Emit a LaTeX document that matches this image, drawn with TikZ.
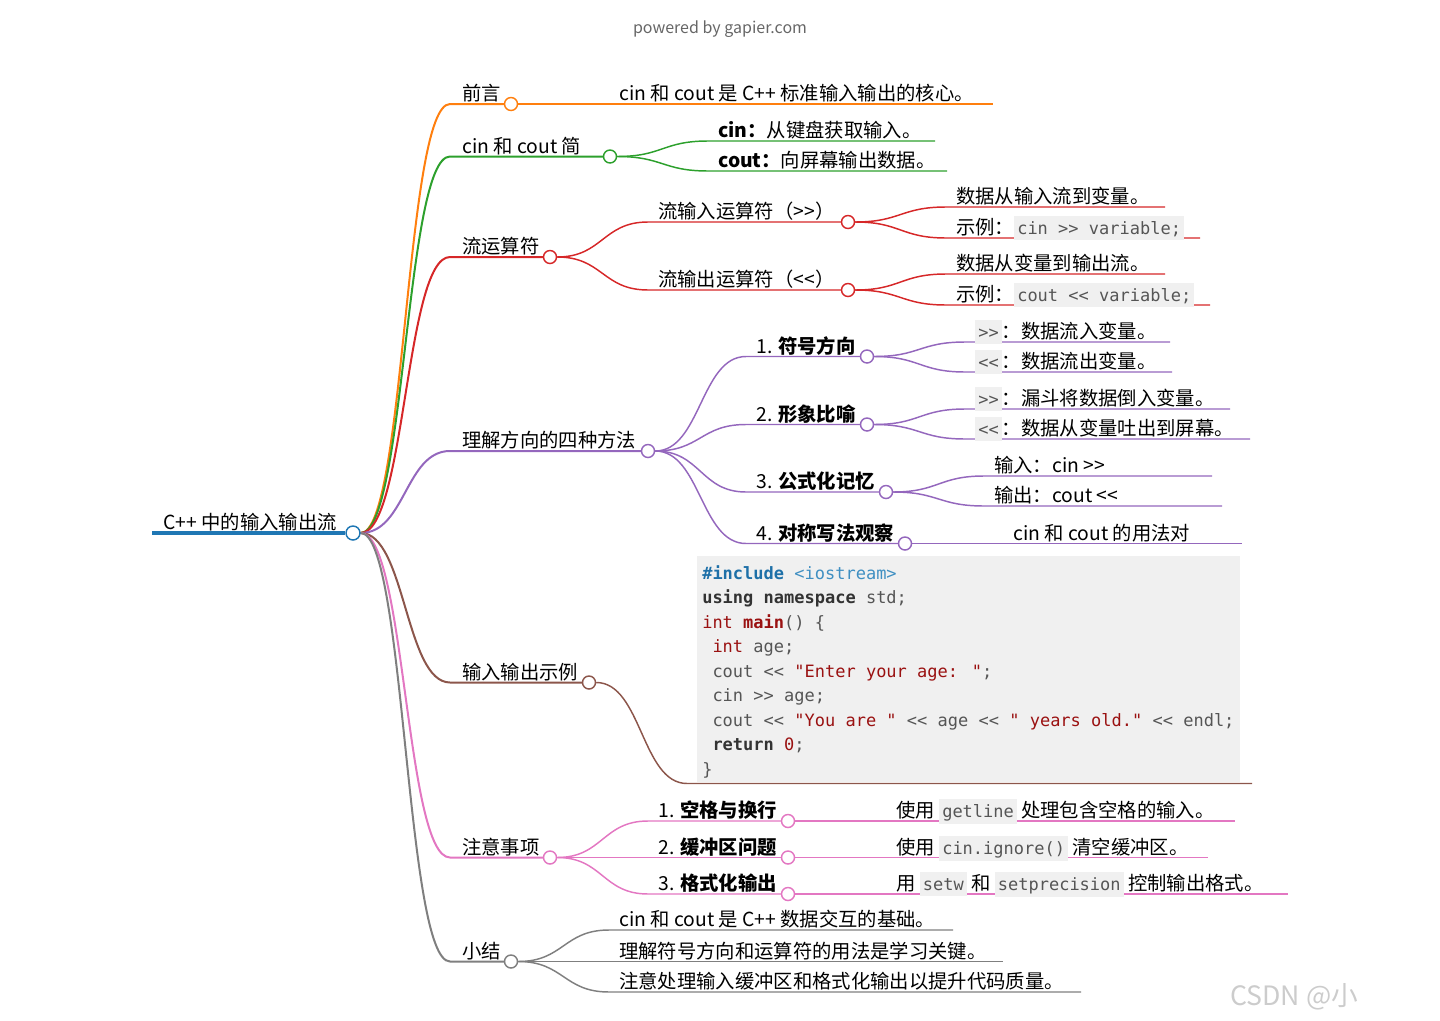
\documentclass[tikz,border=0pt]{standalone}
\usepackage{fontspec}
\setmainfont{Noto Sans CJK SC}
\newfontfamily\codefam{DejaVu Sans Mono}
\usepackage{tikz}
\usetikzlibrary{calc, backgrounds}
\usepackage{xcolor}
\definecolor{mmblue}{HTML}{1F77B4}
\definecolor{mmorange}{HTML}{FF7F0E}
\definecolor{mmgreen}{HTML}{2CA02C}
\definecolor{mmred}{HTML}{D62728}
\definecolor{mmpurple}{HTML}{9467BD}
\definecolor{mmbrown}{HTML}{8C564B}
\definecolor{mmpink}{HTML}{E377C2}
\definecolor{mmgray}{HTML}{7F7F7F}
\definecolor{codebg}{HTML}{F0F0F0}
\definecolor{codefg}{HTML}{555555}
\definecolor{incblue}{HTML}{1E70A8}
\definecolor{libblue}{HTML}{3F8FC2}
\definecolor{cred}{HTML}{9A1111}
\definecolor{kwgray}{HTML}{333333}
\definecolor{pwgray}{HTML}{666666}
\definecolor{wmgray}{HTML}{CCCCCC}
\newcommand\mmfont{\fontsize{14.5pt}{17pt}\selectfont}
\newcommand\codefont{\codefam\fontsize{12.75pt}{18.4pt}\selectfont}
\newcommand\ic[1]{{\setlength\fboxsep{2.25pt}\colorbox{codebg}{\codefont\color{codefg}\vrule height 11.6pt depth 1.8pt width 0pt #1}}}
\newcommand\rin{>\kern0pt>}
\newcommand\rout{<\kern0pt<}

\begin{document}
\begin{tikzpicture}[x=0.75pt, y=-0.75pt,
    txt/.style={anchor=base west, inner sep=0, font=\mmfont},
    dot/.style={circle, draw, fill=white, inner sep=0, minimum size=9.75pt, line width=1.1pt},
    l1/.style={line width=1.5pt},
    l2/.style={line width=1.1pt},
    mm/.style={to path={let \p1=(\tikztostart), \p2=(\tikztotarget) in
        .. controls ({(\x1+\x2)/2},\y1) and ({(\x1+\x2)/2},\y2) .. (\tikztotarget)}},
    codeln/.style={anchor=base west, inner sep=0, font=\codefont, text=codefg}]
\useasboundingbox (0,0) rectangle (1440,1021);
\node[font=\fontsize{12pt}{14pt}\selectfont, text=pwgray] (pw) at (720,29) {powered by gapier.com};

% root
\coordinate (root-s) at (152,533);
\node[txt] (root-t) at (163,529) {C++ 中的输入输出流};
\node[dot, draw=mmblue, minimum size=10.5pt] (root) at (353,533) {};

% first level
\coordinate (pre-s) at (450,104);
\node[txt] (pre-t) at (462,100.5) {前言};
\node[dot, draw=mmorange] (pre) at (511,104) {};
\coordinate (intro-s) at (450,156.5);
\node[txt] (intro-t) at (462,153) {cin 和 cout 简};
\node[dot, draw=mmgreen] (intro) at (610,156.5) {};
\coordinate (op-s) at (450,257);
\node[txt] (op-t) at (462,253.5) {流运算符};
\node[dot, draw=mmred] (op) at (550,257) {};
\coordinate (dir-s) at (450,451);
\node[txt] (dir-t) at (462,447.5) {理解方向的四种方法};
\node[dot, draw=mmpurple] (dir) at (648,451) {};
\coordinate (ex-s) at (450,682.5);
\node[txt] (ex-t) at (462,679) {输入输出示例};
\node[dot, draw=mmbrown] (ex) at (589,682.5) {};
\coordinate (note-s) at (450,857.5);
\node[txt] (note-t) at (462,854) {注意事项};
\node[dot, draw=mmpink] (note) at (550,857.5) {};
\coordinate (sum-s) at (450,961.5);
\node[txt] (sum-t) at (462,958) {小结};
\node[dot, draw=mmgray] (sum) at (511,961.5) {};

% 前言
\coordinate (pre-a-s) at (609,104);
\node[txt] (pre-a-t) at (619,100.5) {cin 和 cout 是 C++ 标准输入输出的核心。};
\coordinate (pre-a) at (993,104);

% cin 和 cout 简
\coordinate (intro-a-s) at (708,141);
\node[txt] (intro-a-t) at (718,137.5) {\textbf{cin：}从键盘获取输入。};
\coordinate (intro-a) at (935,141);
\coordinate (intro-b-s) at (708,171);
\node[txt] (intro-b-t) at (718,167.5) {\textbf{cout：}向屏幕输出数据。};
\coordinate (intro-b) at (947,171);

% 流运算符
\coordinate (op-in-s) at (648,222);
\node[txt] (op-in-t) at (658,218.5) {流输入运算符（\rin）};
\node[dot, draw=mmred] (op-in) at (848,222) {};
\coordinate (op-out-s) at (648,290);
\node[txt] (op-out-t) at (658,286.5) {流输出运算符（\rout）};
\node[dot, draw=mmred] (op-out) at (848,290) {};
\coordinate (op-in-a-s) at (946,207);
\node[txt] (op-in-a-t) at (956,203.5) {数据从输入流到变量。};
\coordinate (op-in-a) at (1165,207);
\coordinate (op-in-b-s) at (946,238);
\node[txt] (op-in-b-t) at (956,234.5) {示例：\ic{cin >> variable;}};
\coordinate (op-in-b) at (1200,238);
\coordinate (op-out-a-s) at (946,274);
\node[txt] (op-out-a-t) at (956,270.5) {数据从变量到输出流。};
\coordinate (op-out-a) at (1165,274);
\coordinate (op-out-b-s) at (946,305);
\node[txt] (op-out-b-t) at (956,301.5) {示例：\ic{cout << variable;}};
\coordinate (op-out-b) at (1210,305);

% 理解方向的四种方法
\coordinate (dir-1-s) at (746,356.5);
\node[txt] (dir-1-t) at (756,353) {1. \textbf{符号方向}};
\node[dot, draw=mmpurple] (dir-1) at (867,356.5) {};
\coordinate (dir-2-s) at (746,424.5);
\node[txt] (dir-2-t) at (756,421) {2. \textbf{形象比喻}};
\node[dot, draw=mmpurple] (dir-2) at (867,424.5) {};
\coordinate (dir-3-s) at (746,492);
\node[txt] (dir-3-t) at (756,488.5) {3. \textbf{公式化记忆}};
\node[dot, draw=mmpurple] (dir-3) at (886,492) {};
\coordinate (dir-4-s) at (746,543.5);
\node[txt] (dir-4-t) at (756,540) {4. \textbf{对称写法观察}};
\node[dot, draw=mmpurple] (dir-4) at (905,543.5) {};
\coordinate (dir-1-a-s) at (965,342);
\node[txt] (dir-1-a-t) at (975,338.5) {\ic{>>}：数据流入变量。};
\coordinate (dir-1-a) at (1170,342);
\coordinate (dir-1-b-s) at (965,372);
\node[txt] (dir-1-b-t) at (975,368.5) {\ic{<<}：数据流出变量。};
\coordinate (dir-1-b) at (1172,372);
\coordinate (dir-2-a-s) at (965,409);
\node[txt] (dir-2-a-t) at (975,405.5) {\ic{>>}：漏斗将数据倒入变量。};
\coordinate (dir-2-a) at (1230,409);
\coordinate (dir-2-b-s) at (965,439);
\node[txt] (dir-2-b-t) at (975,435.5) {\ic{<<}：数据从变量吐出到屏幕。};
\coordinate (dir-2-b) at (1250,439);
\coordinate (dir-3-a-s) at (984,476);
\node[txt] (dir-3-a-t) at (994,472.5) {输入：cin \rin};
\coordinate (dir-3-a) at (1212,476);
\coordinate (dir-3-b-s) at (984,506);
\node[txt] (dir-3-b-t) at (994,502.5) {输出：cout \rout};
\coordinate (dir-3-b) at (1222,506);
\coordinate (dir-4-a-s) at (1003,543.5);
\node[txt] (dir-4-a-t) at (1013,540) {cin 和 cout 的用法对};
\coordinate (dir-4-a) at (1242,543.5);

% 输入输出示例
\node[fill=codebg, anchor=north west, inner sep=0, minimum width=407.25pt, minimum height=169.5pt] (code) at (697,556) {};
\foreach \src [count=\i] in {
    {{\bfseries\color{incblue}\#include} {\color{libblue}<iostream>}},
    {{\bfseries\color{kwgray}using namespace} std;},
    {{\color{cred}int} {\bfseries\color{cred}main}() \{},
    {\ {\color{cred}int} age;},
    {\ cout << {\color{cred}"Enter your age: "};},
    {\ cin >> age;},
    {\ cout << {\color{cred}"You are "} << age << {\color{cred}" years old."} << endl;},
    {\ {\bfseries\color{kwgray}return} {\color{cred}0};},
    {\}}}
  \node[codeln] (cl\i) at (702,{579+24.5*(\i-1)}) {\src};
\coordinate (ex-a-s) at (687,783.5);
\coordinate (ex-a) at (1252,783.5);

% 注意事项
\coordinate (note-1-s) at (648,821);
\node[txt] (note-1-t) at (658,817.5) {1. \textbf{空格与换行}};
\node[dot, draw=mmpink] (note-1) at (788,821) {};
\coordinate (note-2-s) at (648,857.5);
\node[txt] (note-2-t) at (658,854) {2. \textbf{缓冲区问题}};
\node[dot, draw=mmpink] (note-2) at (788,857.5) {};
\coordinate (note-3-s) at (648,894);
\node[txt] (note-3-t) at (658,890.5) {3. \textbf{格式化输出}};
\node[dot, draw=mmpink] (note-3) at (788,894) {};
\coordinate (note-1-a-s) at (886,821);
\node[txt] (note-1-a-t) at (896,817.5) {使用 \ic{getline} 处理包含空格的输入。};
\coordinate (note-1-a) at (1235,821);
\coordinate (note-2-a-s) at (886,857.5);
\node[txt] (note-2-a-t) at (896,854) {使用 \ic{cin.ignore()} 清空缓冲区。};
\coordinate (note-2-a) at (1208,857.5);
\coordinate (note-3-a-s) at (886,894);
\node[txt] (note-3-a-t) at (896,890.5) {用 \ic{setw} 和 \ic{setprecision} 控制输出格式。};
\coordinate (note-3-a) at (1288,894);

% 小结
\coordinate (sum-a-s) at (609,930);
\node[txt] (sum-a-t) at (619,926.5) {cin 和 cout 是 C++ 数据交互的基础。};
\coordinate (sum-a) at (953,930);
\coordinate (sum-b-s) at (609,961.5);
\node[txt] (sum-b-t) at (619,958) {理解符号方向和运算符的用法是学习关键。};
\coordinate (sum-b) at (1003,961.5);
\coordinate (sum-c-s) at (609,992);
\node[txt] (sum-c-t) at (619,988.5) {注意处理输入缓冲区和格式化输出以提升代码质量。};
\coordinate (sum-c) at (1081,992);

\node[anchor=base west, inner sep=0, font=\fontsize{20pt}{22pt}\selectfont, text=wmgray] (wm) at (1230,1005) {CSDN @小};

% links under the dots
\begin{pgfonlayer}{background}
\draw[mmblue, line width=3pt] (root-s) -- (root);
\foreach \kid/\col in {pre/mmorange, intro/mmgreen, op/mmred, dir/mmpurple, ex/mmbrown, note/mmpink, sum/mmgray}
  \draw[l1, \col] (root.east) to[mm] (\kid-s) -- (\kid);
\foreach \mom/\kid/\col in {pre/pre-a/mmorange, intro/intro-a/mmgreen, intro/intro-b/mmgreen,
    op/op-in/mmred, op/op-out/mmred, op-in/op-in-a/mmred, op-in/op-in-b/mmred,
    op-out/op-out-a/mmred, op-out/op-out-b/mmred,
    dir/dir-1/mmpurple, dir/dir-2/mmpurple, dir/dir-3/mmpurple, dir/dir-4/mmpurple,
    dir-1/dir-1-a/mmpurple, dir-1/dir-1-b/mmpurple, dir-2/dir-2-a/mmpurple, dir-2/dir-2-b/mmpurple,
    dir-3/dir-3-a/mmpurple, dir-3/dir-3-b/mmpurple, dir-4/dir-4-a/mmpurple,
    ex/ex-a/mmbrown,
    note/note-1/mmpink, note/note-2/mmpink, note/note-3/mmpink,
    note-1/note-1-a/mmpink, note-2/note-2-a/mmpink, note-3/note-3-a/mmpink,
    sum/sum-a/mmgray, sum/sum-b/mmgray, sum/sum-c/mmgray}
  \draw[l2, \col] (\mom.east) to[mm] (\kid-s) -- (\kid);
\end{pgfonlayer}
\end{tikzpicture}
\end{document}
